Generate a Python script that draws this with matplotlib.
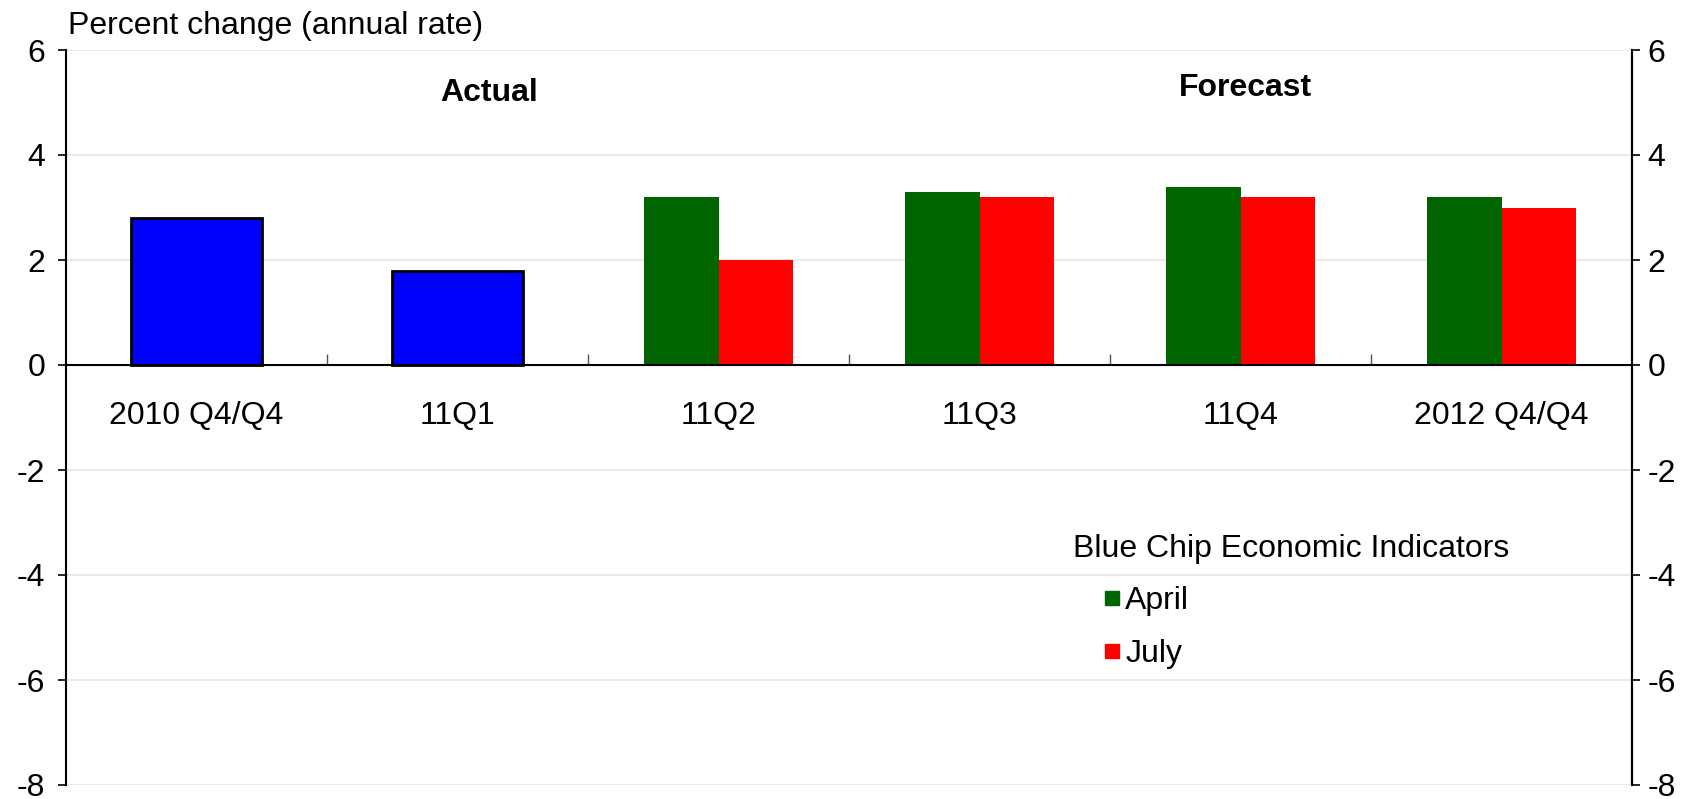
import matplotlib
matplotlib.use("Agg")
import matplotlib.pyplot as plt
import numpy as np
from matplotlib.lines import Line2D

plt.rcParams['font.family'] = ['Liberation Sans', 'DejaVu Sans']

categories = ["2010 Q4/Q4", "11Q1", "11Q2", "11Q3", "11Q4", "2012 Q4/Q4"]
actual_values = [2.8, 1.8]
april_values = [3.2, 3.3, 3.4, 3.2]
july_values = [2.0, 3.2, 3.2, 3.0]
yticks = [-8, -6, -4, -2, 0, 2, 4, 6]

BLUE = "#0000FF"
GREEN = "#006400"
RED = "#FF0000"
FS = 23

fig = plt.figure(figsize=(17.03, 7.99), dpi=100)
ax = fig.add_axes([66/1703, 1-785/799, (1632-66)/1703, (785-50)/799])

x = np.arange(len(categories))
ax.bar(x[:2], actual_values, width=0.5, color=BLUE, edgecolor="black", linewidth=2, zorder=3)
w = 0.285
xf = x[2:]
ax.bar(xf - w/2, april_values, width=w, color=GREEN, zorder=3)
ax.bar(xf + w/2, july_values, width=w, color=RED, zorder=3)

ax.set_xlim(-0.5, len(categories)-0.5)
ax.set_ylim(-8, 6)
ax.set_yticks(yticks)
ax.set_yticklabels([str(v) for v in yticks], fontsize=FS)
ax.tick_params(axis='y', direction='out', length=6, width=1.2, pad=9)
ax.yaxis.grid(True, color="#E6E6E6", linewidth=1.2, zorder=0)
ax.set_axisbelow(True)

ax.spines['top'].set_visible(False)
ax.spines['bottom'].set_position(('data', 0))
ax.spines['bottom'].set_linewidth(1.5)
ax.spines['bottom'].set_zorder(4)
ax.spines['left'].set_linewidth(1.5)
ax.spines['right'].set_linewidth(1.5)

ax.set_xticks(x)
ax.set_xticklabels(categories, fontsize=FS)
ax.tick_params(axis='x', which='major', length=0, pad=26)
ax.set_xticks(x[:-1] + 0.5, minor=True)
ax.tick_params(axis='x', which='minor', direction='in', length=8, width=1, color="#555555")

ax2 = ax.twinx()
ax2.set_ylim(-8, 6)
ax2.set_yticks(yticks)
ax2.set_yticklabels([str(v) for v in yticks], fontsize=FS)
ax2.tick_params(axis='y', direction='out', length=6, width=1.2, pad=5)
for s in ['top', 'bottom', 'left']:
    ax2.spines[s].set_visible(False)
ax2.spines['right'].set_linewidth(1.5)

fig.text(68/1703, 1-26/799, "Percent change (annual rate)", fontsize=FS, ha='left', va='center')
ax.text(1.12, 5.19, "Actual", fontsize=FS, fontweight='bold', ha='center', va='center')
ax.text(4.02, 5.27, "Forecast", fontsize=FS, fontweight='bold', ha='center', va='center')

handles = [Line2D([], [], marker='s', linestyle='none', markersize=9.5, color=GREEN),
           Line2D([], [], marker='s', linestyle='none', markersize=9.5, color=RED)]
leg = ax.legend(handles, ["April", "July"], title="Blue Chip Economic Indicators",
                fontsize=FS, title_fontsize=FS, frameon=False, alignment='left',
                loc='upper left', bbox_to_anchor=((1073-66)/(1632-66), (785-534)/(785-50)),
                borderaxespad=0, borderpad=0, handlelength=2.44, handletextpad=-0.81,
                labelspacing=0.7)

fig.savefig("out.png", dpi=100)
